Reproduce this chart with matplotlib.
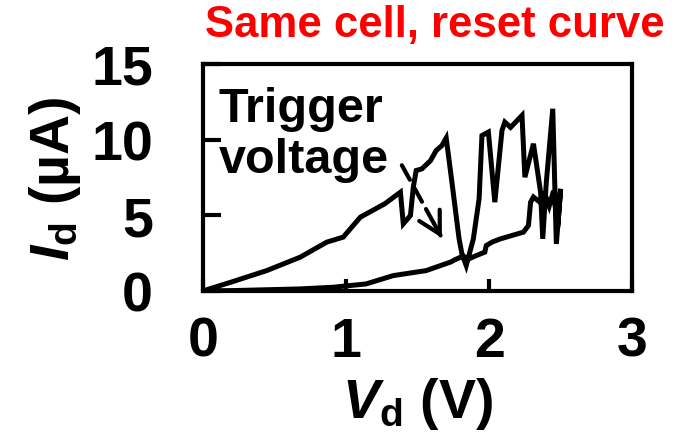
import matplotlib
matplotlib.use("Agg")
import matplotlib.pyplot as plt

plt.rcParams["font.family"] = ["Liberation Sans", "DejaVu Sans"]
plt.rcParams["font.weight"] = "bold"
plt.rcParams["mathtext.fontset"] = "custom"
plt.rcParams["mathtext.rm"] = "Liberation Sans:bold"
plt.rcParams["mathtext.it"] = "Liberation Sans:bold:italic"
plt.rcParams["mathtext.bf"] = "Liberation Sans:bold"

# reset sweep, forward (upper) branch then return (lower) branch
vd_up = [0.0, 0.21, 0.445, 0.68, 0.865, 0.98, 1.10, 1.27, 1.38, 1.40, 1.45, 1.47,
         1.49, 1.53, 1.59, 1.63, 1.67, 1.70, 1.74, 1.79, 1.81, 1.84, 1.89, 1.93,
         1.95, 1.995, 2.04, 2.09, 2.11, 2.15, 2.23, 2.25, 2.31, 2.36, 2.375, 2.40,
         2.445, 2.47, 2.50]
id_up = [0.0, 0.62, 1.34, 2.23, 3.22, 3.55, 4.87, 5.75, 6.52, 4.43, 4.98, 6.85,
         7.95, 8.06, 8.6, 9.27, 9.6, 10.1, 7.18, 3.44, 2.45, 1.67, 3.44, 6.08,
         10.26, 10.49, 5.86, 10.6, 11.15, 10.8, 11.59, 7.51, 9.72, 6.52, 3.44, 7.18,
         12.03, 3.1, 6.74]
vd_down = [2.48, 2.45, 2.42, 2.39, 2.35, 2.31, 2.29, 2.275, 2.24, 2.12, 2.08, 2.02,
           1.98, 1.97, 1.91, 1.855, 1.82, 1.77, 1.73, 1.66, 1.56, 1.33, 1.14, 0.91,
           0.68, 0.21, 0.0]
id_down = [4.2, 6.6, 5.6, 6.4, 5.9, 6.2, 5.86, 4.32, 3.88, 3.55, 3.44, 3.22,
           2.99, 2.56, 2.33, 2.1, 2.3, 2.1, 1.9, 1.67, 1.34, 1.01, 0.46, 0.24,
           0.13, 0.02, 0.0]

x_ticks = [0, 1, 2, 3]
y_ticks = [0, 5, 10, 15]

# trigger-voltage arrow (data coords)
arrow_start = (1.39, 8.3)
arrow_tip = (1.67, 3.5)

fig = plt.figure(figsize=(6.79, 4.35), dpi=100)
ax = fig.add_axes([0.299, 0.329, 0.632, 0.522])

ax.plot(vd_up + vd_down, id_up + id_down, color="black", lw=3.6, solid_joinstyle="miter")

ax.set_xlim(0, 3)
ax.set_ylim(0, 15)
ax.set_xticks(x_ticks)
ax.set_yticks(y_ticks)
ax.tick_params(axis="both", direction="in", width=3, labelsize=40)
ax.tick_params(axis="x", length=9, pad=18)
ax.tick_params(axis="y", length=13, pad=36)
for lbl in ax.get_xticklabels() + ax.get_yticklabels():
    lbl.set_fontweight("bold")
for sp in ax.spines.values():
    sp.set_linewidth(3)

ax.set_xlabel(r"$V_{\mathrm{d}}$ (V)", fontsize=40, fontweight="bold", labelpad=5)
ax.set_ylabel(r"$I_{\mathrm{d}}$ (µA)", fontsize=40, fontweight="bold", labelpad=6)

ax.text(0.11, 7.87, "Trigger\nvoltage", fontsize=35, fontweight="bold",
        va="baseline", ha="left", linespacing=1.15)

# dashed shaft + solid open head
ax.annotate("", xy=arrow_tip, xytext=arrow_start,
            arrowprops=dict(arrowstyle="-", linestyle=(0, (4, 2)), lw=3,
                            color="black", shrinkA=0, shrinkB=2))
head_from = (arrow_start[0] + 0.8 * (arrow_tip[0] - arrow_start[0]),
             arrow_start[1] + 0.8 * (arrow_tip[1] - arrow_start[1]))
ax.annotate("", xy=arrow_tip, xytext=head_from,
            arrowprops=dict(arrowstyle="->,head_length=0.55,head_width=0.3", lw=3,
                            mutation_scale=28, color="black", shrinkA=0, shrinkB=0))

fig.text(0.64, 0.915, "Same cell, reset curve", color="red", fontsize=31.5,
         fontweight="bold", ha="center", va="baseline")

fig.savefig("out.png", dpi=100)
